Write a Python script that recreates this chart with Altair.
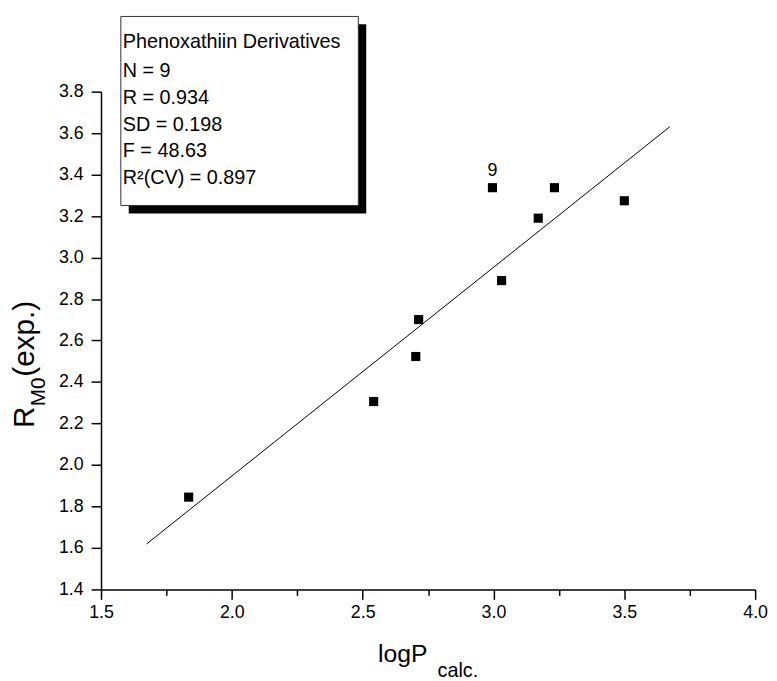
import altair as alt
import pandas as pd

# ---- data ----
logp_calc = [1.835, 2.542, 2.703, 2.714, 2.996, 3.031, 3.171, 3.233, 3.500]
rm0_exp = [1.845, 2.306, 2.523, 2.701, 3.337, 2.889, 3.190, 3.337, 3.274]
point_labels = ["", "", "", "", "9", "", "", "", ""]

fit_x = [1.674, 3.674]
fit_y = [1.619, 3.631]

x_ticks = [1.5, 1.75, 2.0, 2.25, 2.5, 2.75, 3.0, 3.25, 3.5, 3.75, 4.0]
y_ticks = [1.4, 1.5, 1.6, 1.7, 1.8, 1.9, 2.0, 2.1, 2.2, 2.3, 2.4, 2.5, 2.6,
           2.7, 2.8, 2.9, 3.0, 3.1, 3.2, 3.3, 3.4, 3.5, 3.6, 3.7, 3.8]

stats_lines = ["Phenoxathiin Derivatives", "N = 9", "R = 0.934",
               "SD = 0.198", "F = 48.63", "R\u00b2(CV) = 0.897"]

FONT = "Liberation Sans"
W, H = 661, 503

pts = pd.DataFrame({"x": logp_calc, "y": rm0_exp, "lab": point_labels})
fit = pd.DataFrame({"x": fit_x, "y": fit_y})

xmaj = "abs(datum.value*2-round(datum.value*2))<0.01"
ymaj = "abs(datum.value*5-round(datum.value*5))<0.01"

xscale = alt.Scale(domain=[1.5, 4.0], nice=False, zero=False)
yscale = alt.Scale(domain=[1.4, 3.8], nice=False, zero=False)

xaxis = alt.Axis(values=x_ticks, title=None, grid=False,
                 labelExpr=f"{xmaj} ? format(datum.value, '.1f') : ''",
                 tickSize={"condition": {"test": xmaj, "value": 10}, "value": 6},
                 labelPadding=4, labelOverlap=False, labelFlush=False)
yaxis = alt.Axis(values=y_ticks, title=None, grid=False,
                 labelExpr=f"{ymaj} ? format(datum.value, '.1f') : ''",
                 tickSize={"condition": {"test": ymaj, "value": 10}, "value": 5},
                 labelPadding=8, labelOverlap=False, labelFlush=False)

line = alt.Chart(fit).mark_line(color="black", strokeWidth=1).encode(
    x=alt.X("x:Q", scale=xscale, axis=xaxis),
    y=alt.Y("y:Q", scale=yscale, axis=yaxis),
)

points = alt.Chart(pts).mark_square(color="black", size=85, opacity=1).encode(
    x=alt.X("x:Q", scale=xscale),
    y=alt.Y("y:Q", scale=yscale),
)

labels = alt.Chart(pts).mark_text(font=FONT, fontSize=18, dy=-17, color="black").encode(
    x=alt.X("x:Q", scale=xscale),
    y=alt.Y("y:Q", scale=yscale),
    text="lab:N",
)

one = pd.DataFrame({"k": [0]})

shadow = alt.Chart(one).mark_rect(color="black").encode(
    x=alt.value(28), x2=alt.value(268), y=alt.value(-68), y2=alt.value(123))
box = alt.Chart(one).mark_rect(fill="white", stroke="#333333", strokeWidth=1).encode(
    x=alt.value(20), x2=alt.value(260), y=alt.value(-76), y2=alt.value(115))

layers = [line, points, labels, shadow, box]

line_y = [-44.5, -14.5, 12.5, 39.5, 66.5, 93.5]
for txt, yy in zip(stats_lines, line_y):
    layers.append(
        alt.Chart(pd.DataFrame({"t": [txt]})).mark_text(
            font=FONT, fontSize=20, align="left", baseline="alphabetic", color="black"
        ).encode(text="t:N", x=alt.value(22), y=alt.value(yy))
    )

def title_text(txt, x, y, size, angle=0):
    kw = dict(font=FONT, fontSize=size, align="left", baseline="alphabetic", color="black")
    if angle:
        kw["angle"] = angle
    return alt.Chart(pd.DataFrame({"t": [txt]})).mark_text(**kw).encode(
        text="t:N", x=alt.value(x), y=alt.value(y))

layers += [
    title_text("logP", 280, 576, 25),
    title_text("calc.", 340, 591, 20),
    title_text("R", -68, 340, 30, 270),
    title_text("M0", -57, 318, 21, 270),
    title_text("(exp.)", -68, 288, 30, 270),
]

chart = alt.layer(*layers).properties(
    width=W, height=H,
    background="white",
    autosize=alt.AutoSizeParams(type="none"),
    padding={"left": 94, "top": 81, "right": 14, "bottom": 89},
).configure_view(stroke=None).configure_axis(
    domainColor="black", domainWidth=1.5, tickColor="black", tickWidth=1.5,
    labelFont=FONT, labelFontSize=18, labelColor="black",
)

chart.save("out.html", embed_options={"renderer": "svg", "actions": False})
